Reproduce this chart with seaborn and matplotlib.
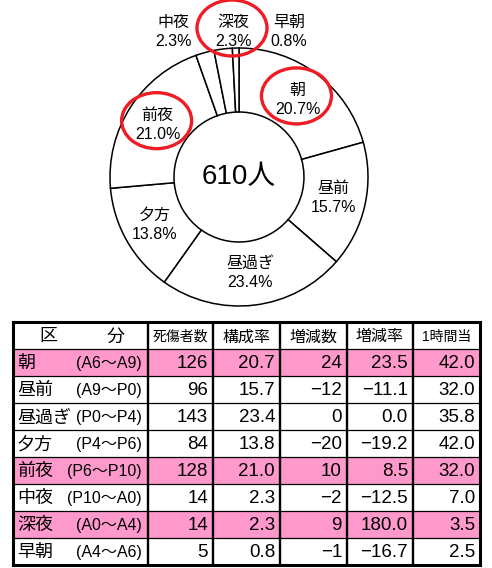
import numpy as np
import matplotlib
matplotlib.use("Agg")
import matplotlib.pyplot as plt
from matplotlib.patches import Ellipse
import seaborn as sns

# --- data -----------------------------------------------------------------
names = ["朝", "昼前", "昼過ぎ", "夕方", "前夜", "中夜", "深夜", "早朝"]
ranges = ["(A6～A9)", "(A9～P0)", "(P0～P4)", "(P4～P6)",
          "(P6～P10)", "(P10～A0)", "(A0～A4)", "(A4～A6)"]
casualties = [126, 96, 143, 84, 128, 14, 14, 5]
share = [20.7, 15.7, 23.4, 13.8, 21.0, 2.3, 2.3, 0.8]
change = [24, -12, 0, -20, 10, -2, 9, -1]
change_rate = [23.5, -11.1, 0.0, -19.2, 8.5, -12.5, 180.0, -16.7]
per_hour = [42.0, 32.0, 35.8, 42.0, 32.0, 7.0, 3.5, 2.5]
highlight = ["朝", "前夜", "深夜"]
header = ["区", "分", "死傷者数", "構成率", "増減数", "増減率", "1時間当"]

# --- layout (pixels) ------------------------------------------------------
W, H = 492, 568
PIE_CENTER = (239, H - 177)
PIE_R = 129
RING_W = 64
COL_W = [70, 65, 65, 67, 67, 66, 67]
TABLE_BOX = [13 / W, 3 / H, 467 / W, 243 / H]
SMALL_LABEL_X = [173, 233, 289]
SMALL_LABEL_Y = H - 32
PINK = "#ff99cc"
RED = "#ee1c25"
HEADER_FS = {"死傷者数": 10, "1時間当": 10, "区": 13, "分": 13}

sns.set_theme(style="white")
plt.rcParams["font.family"] = ["Liberation Sans", "Noto Sans CJK JP", "DejaVu Sans"]
plt.rcParams["text.color"] = "black"


def signed(v, digits):
    """Format number with a typographic minus sign."""
    return f"{v:.{digits}f}".replace("-", "−")


def draw_pie(ax):
    labels = [f"{n}\n{s:.1f}%" for n, s in zip(names, share)]
    wedges, texts = ax.pie(
        casualties, labels=labels, startangle=90, counterclock=False,
        center=PIE_CENTER, radius=PIE_R, labeldistance=0.75, frame=False,
        wedgeprops=dict(width=RING_W, facecolor="white", edgecolor="black",
                        linewidth=1.1),
        textprops=dict(fontsize=11.5, linespacing=1.35, color="black"))
    for t in texts:
        t.set_ha("center")
        t.set_va("center")
    # small slices get their labels in a row above the ring
    small = [i for i, s in enumerate(share) if s < 5]
    for k, i in enumerate(small):
        texts[i].set_position((SMALL_LABEL_X[k], SMALL_LABEL_Y))
    ax.text(*PIE_CENTER, f"{sum(casualties)}人", fontsize=20,
            ha="center", va="center")
    for nm in highlight:
        x, y = texts[names.index(nm)].get_position()
        ax.add_patch(Ellipse((x - 1, y + 4), 70, 56, fill=False,
                             edgecolor=RED, linewidth=2.4, clip_on=False))
    ax.set_xlim(0, W)
    ax.set_ylim(0, H)
    ax.set_aspect("auto")
    ax.axis("off")


def draw_table(tax):
    n = len(names)
    edges = np.concatenate([[0], np.cumsum(COL_W)])
    centers = (edges[:-1] + edges[1:]) / 2
    rows = np.arange(1, n + 1)
    row_colors = [PINK if nm in highlight else "white" for nm in names]
    tax.barh(rows + 0.5, edges[-1], height=1, left=0, color=row_colors,
             linewidth=0)
    tax.hlines(rows, 0, edges[-1], color="black", linewidth=0.9)
    tax.vlines(edges[2:-1], 0, n + 1, color="black", linewidth=1.7)

    for j, h in enumerate(header):
        tax.text(centers[j], 0.55, h, ha="center", va="center",
                 fontsize=HEADER_FS.get(h, 11.5))
    for r in range(n):
        y = r + 1.55
        tax.text(edges[0] + 4, y, names[r], ha="left", va="center",
                 fontsize=13)
        tax.text(edges[2] - 6, y, ranges[r], ha="right", va="center",
                 fontsize=11.5 if len(ranges[r]) < 9 else 9.5)
        cells = [str(casualties[r]), f"{share[r]:.1f}", signed(change[r], 0),
                 signed(change_rate[r], 1), f"{per_hour[r]:.1f}"]
        for j, s in enumerate(cells):
            tax.text(edges[j + 3] - 5, y, s, ha="right", va="center",
                     fontsize=13.5)

    tax.set_xlim(0, edges[-1])
    tax.set_ylim(n + 1, 0)
    tax.set_xticks([])
    tax.set_yticks([])
    for sp in tax.spines.values():
        sp.set_visible(True)
        sp.set_linewidth(2.2)
        sp.set_color("black")


def main():
    fig = plt.figure(figsize=(W / 100, H / 100), dpi=100)
    tax = fig.add_axes(TABLE_BOX)
    ax = fig.add_axes([0, 0, 1, 1])
    draw_table(tax)
    draw_pie(ax)
    fig.savefig("out.png", dpi=100, facecolor="white")


if __name__ == "__main__":
    main()
